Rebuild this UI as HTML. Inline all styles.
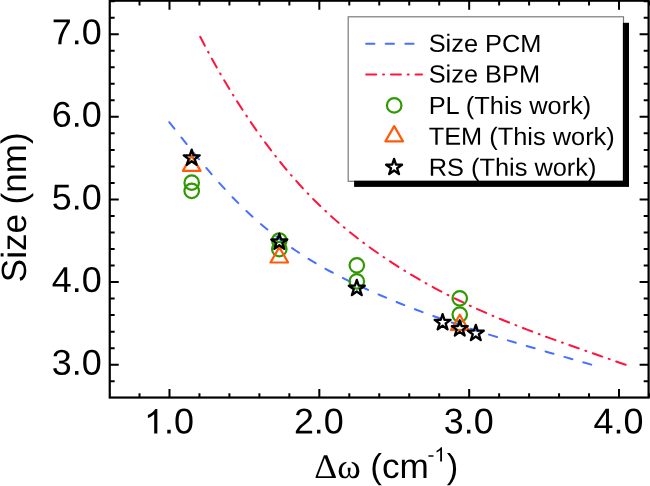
<!DOCTYPE html>
<html><head><meta charset="utf-8"><title>Size vs shift</title>
<style>html,body{margin:0;padding:0;background:#fff;overflow:hidden}svg{display:block;will-change:transform}text{text-rendering:geometricPrecision;font-family:"Liberation Sans",sans-serif;fill:#000}.sym{font-family:"Liberation Serif",serif}</style>
</head><body>
<svg width="650" height="486" viewBox="0 0 650 486">
<rect x="0" y="0" width="650" height="486" fill="#fff"/>
<path d="M168.60 121.44 L175.66 130.28 L182.71 139.12 L189.77 147.91 L196.83 156.60 L203.88 165.13 L210.94 173.45 L218.00 181.52 L225.05 189.30 L232.11 196.79 L239.17 203.97 L246.22 210.84 L253.28 217.39 L260.34 223.62 L267.39 229.54 L274.45 235.19 L281.51 240.56 L288.56 245.67 L295.62 250.54 L302.68 255.18 L309.73 259.61 L316.79 263.84 L323.85 267.88 L330.90 271.75 L337.96 275.46 L345.02 279.03 L352.07 282.47 L359.13 285.80 L366.19 289.03 L373.24 292.17 L380.30 295.23 L387.36 298.22 L394.41 301.13 L401.47 303.98 L408.53 306.75 L415.58 309.47 L422.64 312.12 L429.70 314.71 L436.75 317.25 L443.81 319.74 L450.87 322.17 L457.92 324.56 L464.98 326.91 L472.04 329.21 L479.09 331.48 L486.15 333.71 L493.21 335.91 L500.26 338.07 L507.32 340.22 L514.38 342.33 L521.43 344.43 L528.49 346.51 L535.55 348.57 L542.60 350.62 L549.66 352.67 L556.72 354.70 L563.77 356.73 L570.83 358.76 L577.89 360.80 L584.94 362.83 L592.00 364.88" fill="none" stroke="#4870ff" stroke-width="2" stroke-linecap="round" stroke-dasharray="8.3 11.33" stroke-dashoffset="-1"/>
<path d="M199.75 35.93 L206.87 49.53 L213.99 62.57 L221.10 75.08 L228.22 87.08 L235.34 98.62 L242.46 109.72 L249.57 120.41 L256.69 130.71 L263.81 140.63 L270.93 150.17 L278.04 159.33 L285.16 168.11 L292.28 176.51 L299.40 184.53 L306.51 192.19 L313.63 199.52 L320.75 206.52 L327.87 213.22 L334.98 219.63 L342.10 225.77 L349.22 231.66 L356.34 237.31 L363.45 242.75 L370.57 247.98 L377.69 253.04 L384.81 257.92 L391.92 262.65 L399.04 267.23 L406.16 271.66 L413.28 275.95 L420.39 280.10 L427.51 284.12 L434.63 288.02 L441.75 291.79 L448.86 295.45 L455.98 299.00 L463.10 302.45 L470.22 305.79 L477.33 309.05 L484.45 312.21 L491.57 315.29 L498.69 318.30 L505.80 321.23 L512.92 324.10 L520.04 326.90 L527.16 329.65 L534.27 332.35 L541.39 335.00 L548.51 337.62 L555.63 340.19 L562.74 342.74 L569.86 345.27 L576.98 347.77 L584.10 350.27 L591.21 352.75 L598.33 355.23 L605.45 357.72 L612.57 360.21 L619.68 362.72 L626.80 365.24" fill="none" stroke="#ff143c" stroke-width="2" stroke-linecap="round" stroke-dasharray="10 6.95 0.9 6.95" stroke-dashoffset="-1"/>
<circle cx="191.70" cy="182.70" r="7.25" fill="none" stroke="#2f9900" stroke-width="2.2"/>
<circle cx="191.70" cy="190.90" r="7.25" fill="none" stroke="#2f9900" stroke-width="2.2"/>
<circle cx="279.30" cy="240.50" r="7.25" fill="none" stroke="#2f9900" stroke-width="2.2"/>
<circle cx="279.30" cy="249.20" r="7.25" fill="none" stroke="#2f9900" stroke-width="2.2"/>
<circle cx="356.80" cy="265.30" r="7.25" fill="none" stroke="#2f9900" stroke-width="2.2"/>
<circle cx="356.80" cy="281.40" r="7.25" fill="none" stroke="#2f9900" stroke-width="2.2"/>
<circle cx="459.75" cy="298.30" r="7.25" fill="none" stroke="#2f9900" stroke-width="2.2"/>
<circle cx="459.75" cy="314.60" r="7.25" fill="none" stroke="#2f9900" stroke-width="2.2"/>
<path d="M182.90 170.90 L200.50 170.90 L191.70 155.65 Z" fill="none" stroke="#ff5a0a" stroke-width="2.2" stroke-linejoin="round"/>
<path d="M270.50 262.50 L288.10 262.50 L279.30 247.25 Z" fill="none" stroke="#ff5a0a" stroke-width="2.2" stroke-linejoin="round"/>
<path d="M450.95 330.00 L468.55 330.00 L459.75 314.75 Z" fill="none" stroke="#ff5a0a" stroke-width="2.2" stroke-linejoin="round"/>
<path d="M191.70 149.60 L193.58 155.41 L199.69 155.40 L194.74 158.99 L196.64 164.80 L191.70 161.20 L186.76 164.80 L188.66 158.99 L183.71 155.40 L189.82 155.41 Z" fill="none" stroke="#000" stroke-width="2.3" stroke-linejoin="round"/>
<path d="M279.30 233.70 L281.18 239.51 L287.29 239.50 L282.34 243.09 L284.24 248.90 L279.30 245.30 L274.36 248.90 L276.26 243.09 L271.31 239.50 L277.42 239.51 Z" fill="none" stroke="#000" stroke-width="2.3" stroke-linejoin="round"/>
<path d="M356.80 279.90 L358.68 285.71 L364.79 285.70 L359.84 289.29 L361.74 295.10 L356.80 291.50 L351.86 295.10 L353.76 289.29 L348.81 285.70 L354.92 285.71 Z" fill="none" stroke="#000" stroke-width="2.3" stroke-linejoin="round"/>
<path d="M442.60 314.10 L444.48 319.91 L450.59 319.90 L445.64 323.49 L447.54 329.30 L442.60 325.70 L437.66 329.30 L439.56 323.49 L434.61 319.90 L440.72 319.91 Z" fill="none" stroke="#000" stroke-width="2.3" stroke-linejoin="round"/>
<path d="M459.75 320.30 L461.63 326.11 L467.74 326.10 L462.79 329.69 L464.69 335.50 L459.75 331.90 L454.81 335.50 L456.71 329.69 L451.76 326.10 L457.87 326.11 Z" fill="none" stroke="#000" stroke-width="2.3" stroke-linejoin="round"/>
<path d="M475.80 324.90 L477.68 330.71 L483.79 330.70 L478.84 334.29 L480.74 340.10 L475.80 336.50 L470.86 340.10 L472.76 334.29 L467.81 330.70 L473.92 330.71 Z" fill="none" stroke="#000" stroke-width="2.3" stroke-linejoin="round"/>
<rect x="354.1" y="22.8" width="274.9" height="164.1" fill="#000"/>
<rect x="348.2" y="16.8" width="275.3" height="164.5" fill="#fff" stroke="#7a7a7a" stroke-width="1.2"/>
<path d="M623.5 22.8 V181.3 H354.1" fill="none" stroke="#000" stroke-width="1.2"/>
<path d="M366.1 43.75 H413.9" stroke="#4870ff" stroke-width="2" stroke-linecap="round" stroke-dasharray="8.3 11.3" fill="none"/>
<path d="M366.2 74.5 H422" stroke="#ff143c" stroke-width="2" stroke-linecap="round" stroke-dasharray="10 6.9 0.9 6.9" fill="none"/>
<circle cx="394.20" cy="105.40" r="7.25" fill="none" stroke="#2f9900" stroke-width="2.2"/>
<path d="M385.40 141.40 L403.00 141.40 L394.20 126.15 Z" fill="none" stroke="#ff5a0a" stroke-width="2.2" stroke-linejoin="round"/>
<path d="M394.10 158.90 L395.98 164.71 L402.09 164.70 L397.14 168.29 L399.04 174.10 L394.10 170.50 L389.16 174.10 L391.06 168.29 L386.11 164.70 L392.22 164.71 Z" fill="none" stroke="#000" stroke-width="2.3" stroke-linejoin="round"/>
<text transform="translate(428.7 51.85) scale(1.023 1) rotate(0.06)" font-size="24.8">Size PCM</text>
<text transform="translate(428.7 82.40) scale(1.023 1) rotate(0.06)" font-size="24.8">Size BPM</text>
<text transform="translate(428.7 113.90) scale(1.023 1) rotate(0.06)" font-size="24.8">PL (This work)</text>
<text transform="translate(428.7 144.80) scale(1.023 1) rotate(0.06)" font-size="24.8">TEM (This work)</text>
<text transform="translate(428.7 175.70) scale(1.023 1) rotate(0.06)" font-size="24.8">RS (This work)</text>
<g stroke="#000" stroke-width="2" fill="none">
<path d="M139.52 0.70 v4.90 M139.52 397.55 v-4.40"/>
<path d="M169.49 0.70 v9.00 M169.49 397.55 v-8.50"/>
<path d="M199.45 0.70 v4.90 M199.45 397.55 v-4.40"/>
<path d="M229.42 0.70 v4.90 M229.42 397.55 v-4.40"/>
<path d="M259.39 0.70 v4.90 M259.39 397.55 v-4.40"/>
<path d="M289.36 0.70 v4.90 M289.36 397.55 v-4.40"/>
<path d="M319.33 0.70 v9.00 M319.33 397.55 v-8.50"/>
<path d="M349.29 0.70 v4.90 M349.29 397.55 v-4.40"/>
<path d="M379.26 0.70 v4.90 M379.26 397.55 v-4.40"/>
<path d="M409.23 0.70 v4.90 M409.23 397.55 v-4.40"/>
<path d="M439.20 0.70 v4.90 M439.20 397.55 v-4.40"/>
<path d="M469.17 0.70 v9.00 M469.17 397.55 v-8.50"/>
<path d="M499.13 0.70 v4.90 M499.13 397.55 v-4.40"/>
<path d="M529.10 0.70 v4.90 M529.10 397.55 v-4.40"/>
<path d="M559.07 0.70 v4.90 M559.07 397.55 v-4.40"/>
<path d="M589.04 0.70 v4.90 M589.04 397.55 v-4.40"/>
<path d="M619.01 0.70 v9.00 M619.01 397.55 v-8.50"/>
<path d="M648.97 0.70 v4.90 M648.97 397.55 v-4.40"/>
<path d="M109.75 381.23 h4.90 M648.60 381.23 h-4.90"/>
<path d="M109.75 364.70 h9.00 M648.60 364.70 h-9.00"/>
<path d="M109.75 348.18 h4.90 M648.60 348.18 h-4.90"/>
<path d="M109.75 331.65 h4.90 M648.60 331.65 h-4.90"/>
<path d="M109.75 315.12 h4.90 M648.60 315.12 h-4.90"/>
<path d="M109.75 298.60 h4.90 M648.60 298.60 h-4.90"/>
<path d="M109.75 282.07 h9.00 M648.60 282.07 h-9.00"/>
<path d="M109.75 265.55 h4.90 M648.60 265.55 h-4.90"/>
<path d="M109.75 249.02 h4.90 M648.60 249.02 h-4.90"/>
<path d="M109.75 232.50 h4.90 M648.60 232.50 h-4.90"/>
<path d="M109.75 215.97 h4.90 M648.60 215.97 h-4.90"/>
<path d="M109.75 199.45 h9.00 M648.60 199.45 h-9.00"/>
<path d="M109.75 182.92 h4.90 M648.60 182.92 h-4.90"/>
<path d="M109.75 166.40 h4.90 M648.60 166.40 h-4.90"/>
<path d="M109.75 149.88 h4.90 M648.60 149.88 h-4.90"/>
<path d="M109.75 133.35 h4.90 M648.60 133.35 h-4.90"/>
<path d="M109.75 116.82 h9.00 M648.60 116.82 h-9.00"/>
<path d="M109.75 100.30 h4.90 M648.60 100.30 h-4.90"/>
<path d="M109.75 83.77 h4.90 M648.60 83.77 h-4.90"/>
<path d="M109.75 67.25 h4.90 M648.60 67.25 h-4.90"/>
<path d="M109.75 50.73 h4.90 M648.60 50.73 h-4.90"/>
<path d="M109.75 34.20 h9.00 M648.60 34.20 h-9.00"/>
<path d="M109.75 17.68 h4.90 M648.60 17.68 h-4.90"/>
<path d="M109.75 1.15 h4.90 M648.60 1.15 h-4.90"/>
</g>
<rect x="109.75" y="0.70" width="538.85" height="396.85" fill="none" stroke="#000" stroke-width="2.2"/>
<text transform="translate(101.7 374.70) scale(1 1) rotate(0.06)" font-size="35.9" text-anchor="end">3.0</text>
<text transform="translate(101.7 292.07) scale(1 1) rotate(0.06)" font-size="35.9" text-anchor="end">4.0</text>
<text transform="translate(101.7 209.45) scale(1 1) rotate(0.06)" font-size="35.9" text-anchor="end">5.0</text>
<text transform="translate(101.7 126.82) scale(1 1) rotate(0.06)" font-size="35.9" text-anchor="end">6.0</text>
<text transform="translate(101.7 44.20) scale(1 1) rotate(0.06)" font-size="35.9" text-anchor="end">7.0</text>
<path transform="translate(144.04 433.60) scale(0.01753 -0.01678)" d="M759 0H579V1147Q514 1085 408.5 1023Q303 961 219 930V1104Q370 1175 483 1276Q596 1377 643 1472H759Z" fill="#000"/>
<text transform="translate(164.00 433.6) scale(1.0 1) rotate(0.06)" font-size="35.9">.0</text>
<text transform="translate(318.83 433.6) scale(1.0 1) rotate(0.06)" font-size="35.9" text-anchor="middle">2.0</text>
<text transform="translate(468.67 433.6) scale(1.0 1) rotate(0.06)" font-size="35.9" text-anchor="middle">3.0</text>
<text transform="translate(618.51 433.6) scale(1.0 1) rotate(0.06)" font-size="35.9" text-anchor="middle">4.0</text>
<text transform="translate(26 282.2) rotate(-90.06)" font-size="35">Size (nm)</text>
<text class="sym" transform="translate(314.2 478) scale(1.035 1) rotate(0.06)" font-size="34.5">&#916;&#969;</text>
<text transform="translate(370.2 478) scale(1.02 1) rotate(0.06)" font-size="34.5">(cm</text>
<text transform="translate(427.5 461.5) rotate(0.06)" font-size="20.8">-</text>
<path transform="translate(434.30 461.50) scale(0.01016 -0.00972)" d="M759 0H579V1147Q514 1085 408.5 1023Q303 961 219 930V1104Q370 1175 483 1276Q596 1377 643 1472H759Z" fill="#000"/>
<text transform="translate(446.7 478) rotate(0.06)" font-size="34.5">)</text>
</svg></body></html>
